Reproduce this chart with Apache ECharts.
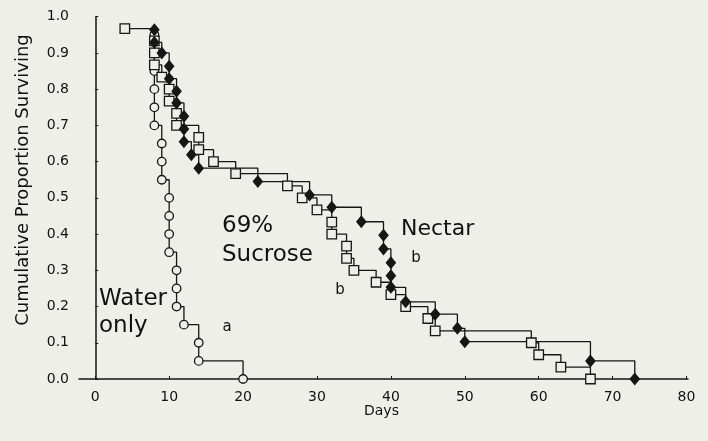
<!DOCTYPE html>
<html>
<head>
<meta charset="utf-8">
<script src="https://cdn.jsdelivr.net/npm/echarts@6/dist/echarts.min.js"></script>
<style>
html,body{margin:0;padding:0;background:#efefea;}
#chart{width:708px;height:441px;}
</style>
</head>
<body>
<div id="chart"></div>
<script>
// ---- data ----
const xTickValues = [0, 10, 20, 30, 40, 50, 60, 70, 80];
const yTickValues = [0, 0.1, 0.2, 0.3, 0.4, 0.5, 0.6, 0.7, 0.8, 0.9, 1.0];

const waterDays = [8, 8, 8, 8, 8, 8, 9, 9, 9, 10, 10, 10, 10, 11, 11, 11, 12, 14, 14, 20];
const waterSurv = [0.95, 0.90, 0.85, 0.80, 0.75, 0.70, 0.65, 0.60, 0.55, 0.50, 0.45, 0.40, 0.35, 0.30, 0.25, 0.20, 0.15, 0.10, 0.05, 0.0];

const sucroseDays = [4, 8, 8, 8, 9, 10, 10, 11, 11, 14, 14, 16, 19, 26, 28, 30, 32, 32, 34, 34, 35, 38, 40, 42, 45, 46, 59, 60, 63, 67];
const sucroseSurv = [0.967, 0.933, 0.900, 0.867, 0.833, 0.800, 0.767, 0.733, 0.700, 0.667, 0.633, 0.600, 0.567, 0.533, 0.500, 0.467, 0.433, 0.400, 0.367, 0.333, 0.300, 0.267, 0.233, 0.200, 0.167, 0.133, 0.100, 0.067, 0.033, 0.0];

const nectarDays = [8, 8, 9, 10, 10, 11, 11, 12, 12, 12, 13, 14, 22, 29, 32, 36, 39, 39, 40, 40, 40, 42, 46, 49, 50, 67, 73];
const nectarSurv = [0.964, 0.929, 0.900, 0.863, 0.829, 0.794, 0.762, 0.725, 0.690, 0.655, 0.619, 0.582, 0.545, 0.508, 0.474, 0.434, 0.397, 0.359, 0.321, 0.285, 0.253, 0.213, 0.179, 0.140, 0.103, 0.050, 0.0];

const xTitle = 'Days';
const yTitle = 'Cumulative Proportion Surviving';

// ---- chart ----
const BG = '#efefea';
const INK = '#161616';
const FONT = 'DejaVu Sans';

function pairs(xs, ys) { return xs.map((x, i) => [x, ys[i]]); }

const chart = echarts.init(document.getElementById('chart'), null, {renderer: 'canvas'});

function stepSeries(name, xs, ys, symbol, size, fill) {
  return {
    name: name,
    type: 'line',
    step: 'end',
    data: pairs(xs, ys),
    symbol: symbol,
    symbolSize: size,
    showSymbol: true,
    showAllSymbol: true,
    clip: false,
    lineStyle: {color: INK, width: 1.3},
    itemStyle: {color: fill, borderColor: INK, borderWidth: 1.3},
    emphasis: {disabled: true}
  };
}

chart.setOption({
  animation: false,
  backgroundColor: BG,
  grid: {left: 79, top: 16.7, width: 609, height: 362.3, containLabel: false},
  xAxis: {
    type: 'value',
    min: -2.2,
    max: 80.2,
    axisLine: {show: true, lineStyle: {color: INK, width: 1.5}},
    axisTick: {show: true, inside: true, length: 3, customValues: xTickValues, lineStyle: {color: INK}},
    axisLabel: {customValues: xTickValues, color: '#111', fontFamily: FONT, fontSize: 14, margin: 11},
    splitLine: {show: false}
  },
  yAxis: {
    type: 'value',
    min: 0,
    max: 1,
    interval: 0.1,
    axisLine: {show: true, lineStyle: {color: INK, width: 1.5}},
    axisTick: {show: true, inside: true, length: 3, lineStyle: {color: INK}},
    axisLabel: {color: '#111', fontFamily: FONT, fontSize: 14, margin: 10,
      formatter: v => v.toFixed(1)},
    splitLine: {show: false}
  },
  series: [
    stepSeries('Water only', waterDays, waterSurv, 'circle', 8.5, BG),
    stepSeries('69% Sucrose', sucroseDays, sucroseSurv, 'rect', 9.5, BG),
    stepSeries('Nectar', nectarDays, nectarSurv, 'diamond', [9, 11], INK)
  ],
  graphic: [
    {type: 'text', left: 364, top: 404, style: {text: xTitle, font: '14px ' + FONT, fill: '#111'}},
    {type: 'text', x: 23, y: 180, rotation: Math.PI / 2,
      style: {text: yTitle, font: '18px ' + FONT, fill: '#111', align: 'center', verticalAlign: 'middle'}},
    {type: 'text', x: 222, y: 226, style: {text: '69%', font: '23px ' + FONT, fill: '#111', verticalAlign: 'middle'}},
    {type: 'text', x: 222, y: 255, style: {text: 'Sucrose', font: '23px ' + FONT, fill: '#111', verticalAlign: 'middle'}},
    {type: 'text', x: 401, y: 229, style: {text: 'Nectar', font: '22px ' + FONT, fill: '#111', verticalAlign: 'middle'}},
    {type: 'text', x: 99, y: 299, style: {text: 'Water', font: '23px ' + FONT, fill: '#111', verticalAlign: 'middle'}},
    {type: 'text', x: 99, y: 326, style: {text: 'only', font: '23px ' + FONT, fill: '#111', verticalAlign: 'middle'}},
    {type: 'text', x: 416, y: 258, style: {text: 'b', font: '15px ' + FONT, fill: '#111', align: 'center', verticalAlign: 'middle'}},
    {type: 'text', x: 340, y: 290, style: {text: 'b', font: '15px ' + FONT, fill: '#111', align: 'center', verticalAlign: 'middle'}},
    {type: 'text', x: 227, y: 327, style: {text: 'a', font: '15px ' + FONT, fill: '#111', align: 'center', verticalAlign: 'middle'}}
  ]
});
</script>
</body>
</html>
